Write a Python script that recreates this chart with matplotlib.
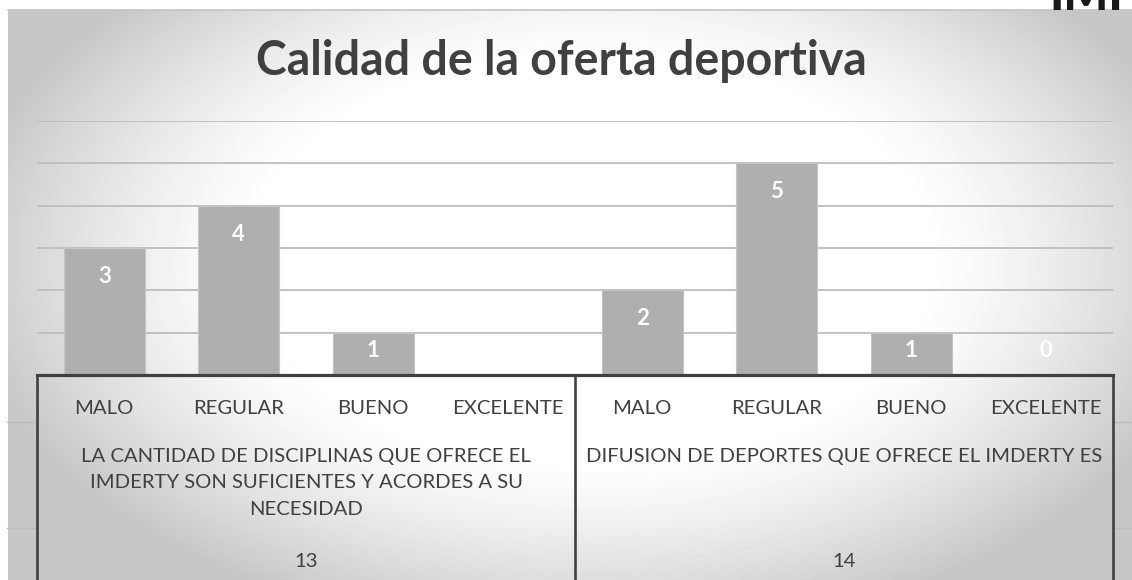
import numpy as np
import matplotlib.pyplot as plt
from matplotlib.transforms import blended_transform_factory

categories = ['MALO', 'REGULAR', 'BUENO', 'EXCELENTE',
              'MALO', 'REGULAR', 'BUENO', 'EXCELENTE']
values = [3, 4, 1, None, 2, 5, 1, 0]
groups = ['LA CANTIDAD DE DISCIPLINAS QUE OFRECE EL\nIMDERTY SON SUFICIENTES Y ACORDES A SU\nNECESIDAD',
          'DIFUSION DE DEPORTES QUE OFRECE EL IMDERTY ES']
group_ids = ['13', '14']
per_group = 4

W, H = 1132, 580
FONT = 'Lato'
TXT = '#404040'

fig = plt.figure(figsize=(W / 100, H / 100), dpi=100)
fig.patch.set_facecolor('white')

# radial gray gradient behind the chart
bg = fig.add_axes([0, 0, 1, 1])
bg.set_xlim(0, W)
bg.set_ylim(H, 0)
bg.axis('off')
yy, xx = np.mgrid[10:H, 8:W]
r = np.sqrt(((xx - 590) / 600.0) ** 2 + ((yy - 260) / 360.0) ** 2)
shade = 1 - 0.22 * np.clip((r - 0.55) / 0.5, 0, 1) ** 1.3
bg.imshow(shade, cmap='gray', vmin=0, vmax=1, extent=(8, W, H, 10),
          aspect='auto', interpolation='bilinear')
bg.plot([8, W], [10, 10], color='#c4c4c4', lw=1.2)

# partly cut logo at top right
fig.text(1086 / W, (H - 10) / H, 'IMI', fontsize=34, fontweight='black',
         family=FONT, color='#1a1a1a', ha='center', va='baseline', zorder=0)

ax_bottom = H - 375
ax_h = 375 - 121
ax = fig.add_axes([37 / W, ax_bottom / H, 1076 / W, ax_h / H])
ax.patch.set_alpha(0)
ax.set_xlim(-0.5, len(categories) - 0.5)
ax.set_ylim(0, 6)
ax.set_yticks(range(0, 7))
ax.set_xticks([])
ax.tick_params(left=False, labelleft=False)
ax.yaxis.grid(True, color='#bdbdbd', lw=1.3)
ax.set_axisbelow(True)
for s in ['top', 'left', 'right']:
    ax.spines[s].set_visible(False)
ax.spines['bottom'].set_color('#404040')
ax.spines['bottom'].set_linewidth(2.3)
ax.spines['bottom'].set_zorder(5)

x = np.arange(len(categories))
heights = [0 if v is None else v for v in values]
ax.bar(x, heights, width=0.6, color='#afafaf', edgecolor='#c4c4c4',
       linewidth=0.8, zorder=2)

for xi, v in zip(x, values):
    if v is None:
        continue
    ax.text(xi, max(v - 0.83, 0.425), str(v), ha='center', va='baseline',
            color='white', fontsize=16, fontweight='bold', family=FONT, zorder=4)

# multi-level category axis
tr = blended_transform_factory(ax.transData, ax.transAxes)
px = lambda p: -p / ax_h

for xi, c in zip(x, categories):
    ax.text(xi, px(39), c, transform=tr, ha='center', va='baseline',
            fontsize=14.6, color=TXT, family=FONT, clip_on=False)

for gi, (g, gid) in enumerate(zip(groups, group_ids)):
    gc = gi * per_group + (per_group - 1) / 2
    for li, line in enumerate(g.split('\n')):
        ax.text(gc, px(87 + 26.5 * li), line, transform=tr, ha='center',
                va='baseline', fontsize=14.6, color=TXT, family=FONT, clip_on=False)
    ax.text(gc, px(192), gid, transform=tr, ha='center', va='baseline',
            fontsize=14.6, color=TXT, family=FONT, clip_on=False)

for b in np.arange(0, len(categories) + 1, per_group) - 0.5:
    ax.plot([b, b], [0, px(210)], transform=tr, color='#404040', lw=1.9,
            clip_on=False, zorder=5)

# faint level separators outside the table
for yp in (47, 153):
    ax.plot([-0.72, -0.5], [px(yp), px(yp)], transform=tr, color='#bcbcbc',
            lw=1, clip_on=False)
    ax.plot([7.5, 7.7], [px(yp), px(yp)], transform=tr, color='#bcbcbc',
            lw=1, clip_on=False)

fig.text(561.5 / W, (H - 75) / H, 'Calidad de la oferta deportiva',
         ha='center', va='baseline', fontsize=33.5, fontweight='bold',
         color=TXT, family=FONT)

fig.savefig('out.png', dpi=100)
